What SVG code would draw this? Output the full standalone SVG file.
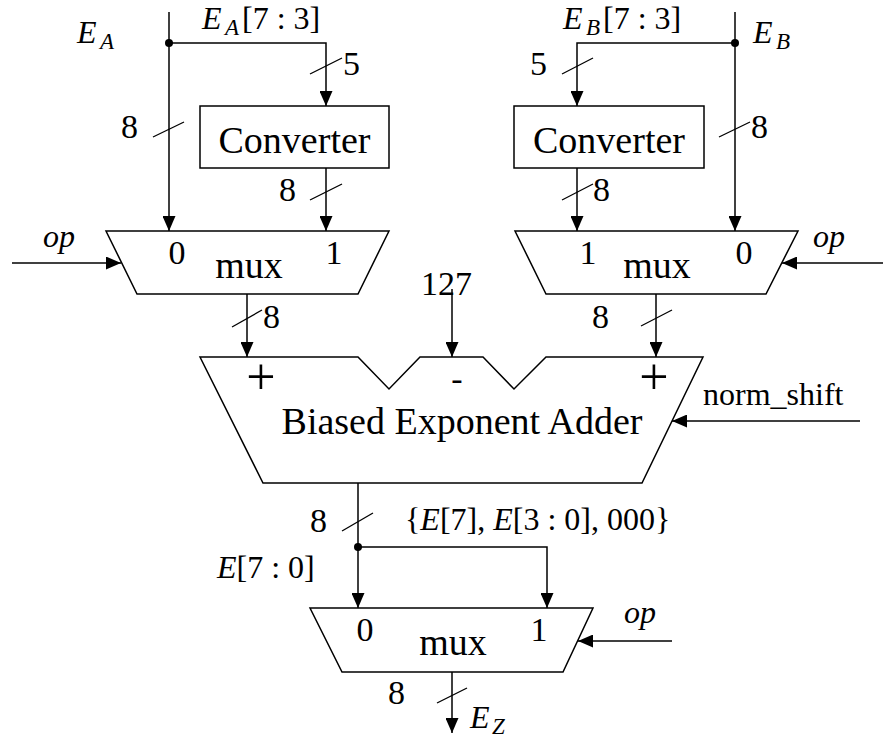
<svg xmlns="http://www.w3.org/2000/svg" width="883" height="744" viewBox="0 0 883 744">
<defs>
<marker id="ah" viewBox="0 0 15 13" refX="15" refY="6.5" markerWidth="15" markerHeight="13" orient="auto" markerUnits="userSpaceOnUse">
<path d="M0,0 L15,6.5 L0,13 z" fill="#000"/>
</marker>
<style>
.w{fill:none;stroke:#000;stroke-width:1.5;marker-end:url(#ah)}
.s{stroke:#000;stroke-width:1.3}
.b{fill:#fff;stroke:#000;stroke-width:1.5}
text{font-family:"Liberation Serif","Times New Roman",serif;fill:#000}
.big{font-size:38px}
.n{font-size:34px}
.m{font-size:32px}
.p{font-size:52px}
.i{font-style:italic}
.sub{font-size:23px;font-style:italic}
.c{text-anchor:middle}
</style>
</defs>
<g id="connectors">
<path class="w" d="M169,12 V231"/>
<path class="w" d="M169,43 H326 V106"/>
<path class="w" d="M326,168 V231"/>
<path class="w" d="M12,263 H121"/>
<path class="w" d="M735,12 V231"/>
<path class="w" d="M735,43 H577 V106"/>
<path class="w" d="M577,168 V231"/>
<path class="w" d="M883,263 H782"/>
<path class="w" d="M247,294 V357"/>
<path class="w" d="M452,289 V357"/>
<path class="w" d="M656,294 V357"/>
<path class="w" d="M860,421 H672"/>
<path class="w" d="M358,483 V608"/>
<path class="w" d="M358,547 H547 V608"/>
<path class="w" d="M672,641 H578"/>
<path class="w" d="M452,672 V733"/>
<circle cx="169" cy="43" r="4"/>
<circle cx="735" cy="43" r="4"/>
<circle cx="358" cy="547" r="4"/>
<line class="s" x1="153" y1="137" x2="184" y2="122"/>
<line class="s" x1="310" y1="74" x2="342" y2="58"/>
<line class="s" x1="310" y1="200" x2="342" y2="184"/>
<line class="s" x1="562" y1="74" x2="593" y2="58"/>
<line class="s" x1="719" y1="137" x2="750" y2="122"/>
<line class="s" x1="562" y1="200" x2="593" y2="184"/>
<line class="s" x1="232" y1="327" x2="262" y2="310"/>
<line class="s" x1="641" y1="326" x2="672" y2="310"/>
<line class="s" x1="342" y1="531" x2="373" y2="513"/>
<line class="s" x1="437" y1="703" x2="467" y2="688"/>
<text class="n" x="121" y="138">8</text>
<text class="n" x="343" y="75">5</text>
<text class="n" x="279" y="201">8</text>
<text class="n" x="530" y="75">5</text>
<text class="n" x="751" y="138">8</text>
<text class="n" x="593" y="201">8</text>
<text class="n" x="263" y="328">8</text>
<text class="n" x="592" y="328">8</text>
<text class="n" x="310" y="532">8</text>
<text class="n" x="388" y="704">8</text>
<text class="n" x="421" y="295">127</text>
<text class="m i" x="43" y="247">op</text>
<text class="m i" x="813" y="247">op</text>
<text class="m i" x="624" y="623">op</text>
<text class="m" x="703" y="405">norm_shift</text>
<text class="m"><tspan class="i" x="77" y="43">E</tspan><tspan class="sub" x="100" y="49">A</tspan></text>
<text class="m"><tspan class="i" x="202" y="29">E</tspan><tspan class="sub" x="225" y="35">A</tspan><tspan x="242" y="29">[7 : 3]</tspan></text>
<text class="m"><tspan class="i" x="563" y="29">E</tspan><tspan class="sub" x="586" y="35">B</tspan><tspan x="603" y="29">[7 : 3]</tspan></text>
<text class="m"><tspan class="i" x="753" y="43">E</tspan><tspan class="sub" x="776" y="49">B</tspan></text>
<text class="m" x="405" y="530">{<tspan class="i">E</tspan>[7], <tspan class="i">E</tspan>[3 : 0], 000}</text>
<text class="m" x="217" y="578"><tspan class="i">E</tspan>[7 : 0]</text>
<text class="m"><tspan class="i" x="470" y="728">E</tspan><tspan class="sub" x="492" y="734">Z</tspan></text>
</g>
<g id="converterA">
<rect class="b" x="200" y="106" width="189" height="62"/>
<text class="big c" x="294.5" y="153">Converter</text>
</g>
<g id="converterB">
<rect class="b" x="514" y="106" width="190" height="62"/>
<text class="big c" x="609" y="153">Converter</text>
</g>
<g id="muxA">
<polygon class="b" points="106,231 389,231 358,294 137,294"/>
<text class="n c" x="177" y="264">0</text>
<text class="n c" x="334" y="264">1</text>
<text class="big c" x="249" y="278">mux</text>
</g>
<g id="muxB">
<polygon class="b" points="515,231 798,231 766,294 546,294"/>
<text class="n c" x="588" y="264">1</text>
<text class="n c" x="744" y="264">0</text>
<text class="big c" x="657" y="278">mux</text>
</g>
<g id="adder">
<polygon class="b" points="200,357 358,357 389,389 420,357 483,357 514,389 546,357 703,357 642,483 263,483"/>
<text class="p c" x="261" y="394">+</text>
<text class="n c" x="457" y="390">-</text>
<text class="p c" x="654" y="394">+</text>
<text class="big c" x="462" y="434">Biased Exponent Adder</text>
</g>
<g id="muxZ">
<polygon class="b" points="310,608 593,608 563,672 342,672"/>
<text class="n c" x="365" y="641">0</text>
<text class="n c" x="539" y="641">1</text>
<text class="big c" x="453" y="655">mux</text>
</g>
</svg>
